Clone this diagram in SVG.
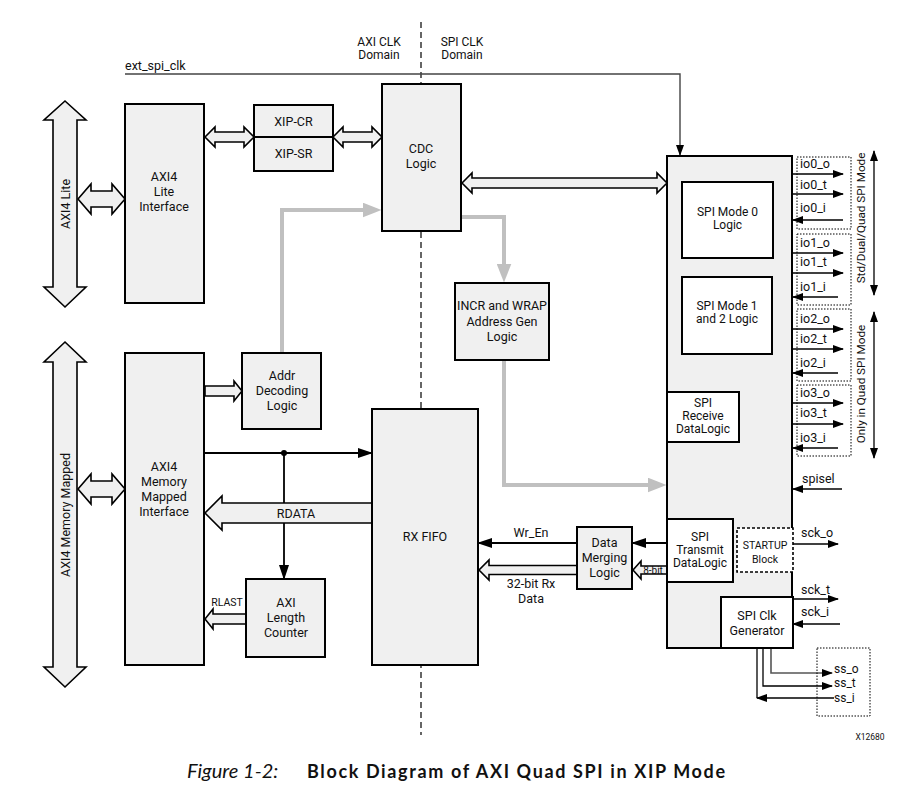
<svg xmlns="http://www.w3.org/2000/svg" width="914" height="792" viewBox="0 0 914 792">
<style>
text{font-family:Roboto,"Liberation Sans",sans-serif;font-size:12.5px;fill:#111;text-anchor:middle}
.l{text-anchor:start}
.sm{font-size:10.5px}
.t12{font-size:12px}
.box{fill:#f0f0f0;stroke:#000;stroke-width:2}
.wbox{fill:#fff;stroke:#000;stroke-width:2}
.hol{fill:#f0f0f0;stroke:#000;stroke-width:1.6;stroke-linejoin:miter}
.ln{fill:none;stroke:#000;stroke-width:1.8}
.thin{fill:none;stroke:#000;stroke-width:1.3}
.gr{fill:none;stroke:#c0c0c0;stroke-width:4}
.dot{fill:none;stroke:#000;stroke-width:1;stroke-dasharray:1.5,1.5}
</style>
<defs>
<marker id="ab" markerUnits="userSpaceOnUse" markerWidth="15" markerHeight="10" refX="14" refY="5" orient="auto"><path d="M0,0 L15,5 L0,10 Z" fill="#000"/></marker>
<marker id="as" markerUnits="userSpaceOnUse" markerWidth="11" markerHeight="8" refX="10" refY="4" orient="auto-start-reverse"><path d="M0,0 L11,4 L0,8 Z" fill="#000"/></marker>
<marker id="ag" markerUnits="userSpaceOnUse" markerWidth="19" markerHeight="15" refX="0.5" refY="7.5" orient="auto"><path d="M0,0 L19,7.5 L0,15 Z" fill="#c0c0c0"/></marker>
</defs>

<!-- domain divider -->
<line x1="421" y1="22" x2="421" y2="735" stroke="#000" stroke-width="1.2" stroke-dasharray="6,4"/>
<text x="379" y="46" class="t12">AXI CLK</text>
<text x="379" y="59" class="t12">Domain</text>
<text x="462" y="46" class="t12">SPI CLK</text>
<text x="462" y="59" class="t12">Domain</text>

<g id="connectors">
  <!-- ext_spi_clk -->
  <polyline points="125,74 680,74 680,155" style="fill:none;stroke:#444;stroke-width:1.4" marker-end="url(#as)"/>
  <text class="l" x="125" y="70">ext_spi_clk</text>
  <!-- gray address paths -->
  <polyline class="gr" points="282,353 282,210 363,210" marker-end="url(#ag)"/>
  <polyline class="gr" points="461,217 504,217 504,264" marker-end="url(#ag)"/>
  <polyline class="gr" points="504,360 504,485 648,485" marker-end="url(#ag)"/>
  <!-- big bus arrows -->
  <path class="hol" d="M65,101 L86,120 L77,120 L77,287 L86,287 L65,307 L44,287 L53,287 L53,120 L44,120 Z"/>
  <path class="hol" d="M65,342 L86,362 L77,362 L77,667 L86,667 L65,687 L44,667 L53,667 L53,362 L44,362 Z"/>
  <!-- small double arrows to interfaces -->
  <path class="hol" d="M78,199 L91,184 L91,191 L112,191 L112,184 L125,199 L112,214 L112,207 L91,207 L91,214 Z"/>
  <path class="hol" d="M78,489 L91,474 L91,481 L112,481 L112,474 L125,489 L112,504 L112,497 L91,497 L91,504 Z"/>
  <!-- Lite if <-> XIP -->
  <path class="hol" d="M205,137 L215,127 L215,132 L244,132 L244,127 L254,137 L244,147 L244,142 L215,142 L215,147 Z"/>
  <!-- XIP <-> CDC -->
  <path class="hol" d="M333,137 L343,127 L343,132 L372,132 L372,127 L382,137 L372,147 L372,142 L343,142 L343,147 Z"/>
  <!-- CDC <-> SPI core -->
  <path class="hol" d="M462,183 L472,173 L472,178 L657,178 L657,173 L667,183 L657,193 L657,188 L472,188 L472,193 Z"/>
  <!-- AXI MM -> Addr decoding -->
  <path class="hol" d="M205,386 L234,386 L234,381 L242,391 L234,401 L234,396 L205,396 Z"/>
  <!-- write path -->
  <line class="ln" x1="205" y1="453" x2="372" y2="453" marker-end="url(#ab)"/>
  <circle cx="284" cy="453" r="3" fill="#000"/>
  <line class="ln" x1="284" y1="453" x2="284" y2="579" marker-end="url(#ab)"/>
  <!-- RDATA -->
  <path class="hol" d="M372,503 L222,503 L222,496 L205,513 L222,530 L222,523 L372,523 Z"/>
  <text x="296" y="517.5">RDATA</text>
  <!-- RLAST -->
  <path class="hol" d="M246,614 L213,614 L213,609 L205,619 L213,629 L213,624 L246,624 Z"/>
  <text class="sm" x="227" y="606">RLAST</text>
  <!-- Wr_En & 32-bit -->
  <line class="ln" x1="577" y1="543" x2="478" y2="543" marker-end="url(#ab)"/>
  <text x="531" y="537">Wr_En</text>
  <path class="hol" d="M577,565.5 L489,565.5 L489,560 L479,570 L489,580 L489,574.5 L577,574.5 Z"/>
  <text x="531" y="588">32-bit Rx</text>
  <text x="531" y="603">Data</text>
  <!-- transmit -> merging -->
  <line class="ln" x1="667" y1="543" x2="632" y2="543" marker-end="url(#ab)"/>
  <path class="hol" d="M667,566 L641,566 L641,561 L633,570 L641,579 L641,574 L667,574 Z"/>
  <text x="653" y="573.5" style="font-size:10px">8-bit</text>
  <!-- io signals -->
  <g>
    <line class="thin" x1="793" y1="174" x2="843" y2="174" marker-end="url(#as)"/>
    <line class="thin" x1="793" y1="194" x2="843" y2="194" marker-end="url(#as)"/>
    <line class="thin" x1="843" y1="220" x2="793" y2="220" marker-end="url(#as)"/>
    <line class="thin" x1="793" y1="253" x2="843" y2="253" marker-end="url(#as)"/>
    <line class="thin" x1="793" y1="273" x2="843" y2="273" marker-end="url(#as)"/>
    <line class="thin" x1="838" y1="297" x2="793" y2="297" marker-end="url(#as)"/>
    <line class="thin" x1="793" y1="329" x2="843" y2="329" marker-end="url(#as)"/>
    <line class="thin" x1="793" y1="349" x2="843" y2="349" marker-end="url(#as)"/>
    <line class="thin" x1="838" y1="373" x2="793" y2="373" marker-end="url(#as)"/>
    <line class="thin" x1="793" y1="403" x2="843" y2="403" marker-end="url(#as)"/>
    <line class="thin" x1="793" y1="424" x2="843" y2="424" marker-end="url(#as)"/>
    <line class="thin" x1="838" y1="448" x2="793" y2="448" marker-end="url(#as)"/>
    <rect class="dot" x="797" y="157" width="54" height="72"/>
    <rect class="dot" x="797" y="234" width="54" height="71"/>
    <rect class="dot" x="797" y="309" width="54" height="72"/>
    <rect class="dot" x="797" y="385" width="54" height="71"/>
    <text class="l" x="800" y="168">io0_o</text>
    <text class="l" x="800" y="189">io0_t</text>
    <text class="l" x="800" y="212">io0_i</text>
    <text class="l" x="800" y="247">io1_o</text>
    <text class="l" x="800" y="266">io1_t</text>
    <text class="l" x="800" y="291">io1_i</text>
    <text class="l" x="800" y="323">io2_o</text>
    <text class="l" x="800" y="343">io2_t</text>
    <text class="l" x="800" y="367">io2_i</text>
    <text class="l" x="800" y="397">io3_o</text>
    <text class="l" x="800" y="417">io3_t</text>
    <text class="l" x="800" y="442">io3_i</text>
    <line class="thin" x1="874" y1="151" x2="874" y2="295" marker-start="url(#as)" marker-end="url(#as)"/>
    <line class="thin" x1="874" y1="312" x2="874" y2="458" marker-start="url(#as)" marker-end="url(#as)"/>
    <text transform="translate(865,218) rotate(-90)" style="font-size:11.7px">Std/Dual/Quad SPI Mode</text>
    <text transform="translate(865,384) rotate(-90)" style="font-size:11.7px">Only in Quad SPI Mode</text>
  </g>
  <!-- spisel / sck -->
  <line class="thin" x1="842" y1="489" x2="793" y2="489" marker-end="url(#as)"/>
  <text class="l" x="802" y="483">spisel</text>
  <line class="thin" x1="793" y1="544" x2="838" y2="544" marker-end="url(#as)"/>
  <text class="l" x="801" y="537">sck_o</text>
  <line class="thin" x1="793" y1="599" x2="838" y2="599" marker-end="url(#as)"/>
  <text class="l" x="801" y="594">sck_t</text>
  <line class="thin" x1="840" y1="624" x2="793" y2="624" marker-end="url(#as)"/>
  <text class="l" x="801" y="616">sck_i</text>
  <line class="thin" x1="763" y1="597" x2="763" y2="573" marker-end="url(#as)"/>
  <!-- ss -->
  <polyline class="thin" points="771,648 771,673 832,673" style="stroke:#555;stroke-width:1.6" marker-end="url(#as)"/>
  <polyline class="thin" points="763,648 763,686 832,686" marker-end="url(#as)"/>
  <polyline class="thin" points="757,648 757,698"/>
  <line class="thin" x1="834" y1="698" x2="757" y2="698" marker-end="url(#as)"/>
  <rect class="dot" x="817" y="648" width="53" height="68"/>
  <text class="l t12" x="834" y="673">ss_o</text>
  <text class="l t12" x="834" y="687">ss_t</text>
  <text class="l t12" x="834" y="701.5">ss_i</text>
</g>

<g id="axi4-lite-bus"><text transform="translate(69.5,204) rotate(-90)">AXI4 Lite</text></g>
<g id="axi4-mm-bus"><text transform="translate(69.5,515) rotate(-90)">AXI4 Memory Mapped</text></g>

<g id="axi4-lite-if">
  <rect class="box" x="125" y="104" width="79" height="199"/>
  <text x="164" y="180.5">AXI4</text><text x="164" y="195.5">Lite</text><text x="164" y="210.5">Interface</text>
</g>
<g id="xip-regs">
  <rect class="box" x="254" y="105" width="79" height="66"/>
  <line x1="254" y1="137" x2="333" y2="137" stroke="#000" stroke-width="2"/>
  <text x="293.5" y="126">XIP-CR</text><text x="293.5" y="158">XIP-SR</text>
</g>
<g id="cdc">
  <rect class="box" x="382" y="84" width="79" height="147"/>
  <text x="421" y="153">CDC</text><text x="421" y="168">Logic</text>
</g>
<g id="incr-wrap">
  <rect class="box" x="455" y="283" width="94" height="77"/>
  <text x="502" y="310">INCR and WRAP</text><text x="502" y="326">Address Gen</text><text x="502" y="341">Logic</text>
</g>
<g id="axi4-mm-if">
  <rect class="box" x="125" y="353" width="79" height="312"/>
  <text x="164" y="471">AXI4</text><text x="164" y="486">Memory</text><text x="164" y="501">Mapped</text><text x="164" y="516">Interface</text>
</g>
<g id="addr-dec">
  <rect class="box" x="242" y="353" width="79" height="76"/>
  <text x="282" y="380">Addr</text><text x="282" y="395">Decoding</text><text x="282" y="410">Logic</text>
</g>
<g id="rx-fifo">
  <rect class="box" x="372" y="409" width="106" height="256"/>
  <text x="425" y="541">RX FIFO</text>
</g>
<g id="axi-len">
  <rect class="box" x="246" y="579" width="79" height="78"/>
  <text x="286" y="607">AXI</text><text x="286" y="622">Length</text><text x="286" y="637">Counter</text>
</g>
<g id="data-merge">
  <rect class="box" x="577" y="527" width="55" height="62"/>
  <text x="604.5" y="547">Data</text><text x="604.5" y="562">Merging</text><text x="604.5" y="577">Logic</text>
</g>
<g id="spi-core">
  <rect class="box" x="667" y="156" width="125" height="492"/>
  <g id="spi-mode0">
    <rect class="wbox" x="682" y="182" width="91" height="76"/>
    <text class="t12" x="727.5" y="216">SPI Mode 0</text><text class="t12" x="727.5" y="229">Logic</text>
  </g>
  <g id="spi-mode12">
    <rect class="wbox" x="682" y="277" width="90" height="77"/>
    <text class="t12" x="727" y="310">SPI Mode 1</text><text class="t12" x="727" y="323">and 2 Logic</text>
  </g>
  <g id="spi-rx">
    <rect class="wbox" x="667" y="392" width="72" height="50"/>
    <text class="t12" x="703" y="407">SPI</text><text class="t12" x="703" y="420">Receive</text><text class="t12" x="703" y="433">DataLogic</text>
  </g>
  <g id="spi-tx">
    <rect class="wbox" x="667" y="519" width="66" height="63"/>
    <text class="t12" x="700" y="541">SPI</text><text class="t12" x="700" y="554">Transmit</text><text class="t12" x="700" y="567">DataLogic</text>
  </g>
  <g id="startup">
    <rect x="737" y="528" width="56" height="44" fill="#fff" stroke="#000" stroke-width="1.6" stroke-dasharray="3,2"/>
    <text class="sm" x="765" y="549">STARTUP</text><text class="sm" x="765" y="563">Block</text>
  </g>
  <g id="spi-clk-gen">
    <rect class="wbox" x="721" y="597" width="72" height="51"/>
    <text x="757" y="619.5">SPI Clk</text><text x="757" y="634.5">Generator</text>
  </g>
</g>

<text x="870" y="740" style="font-size:8.5px">X12680</text>
<text x="187" y="778" class="l" style="font-family:Lato,'Open Sans',sans-serif;font-size:20px;font-style:italic">Figure 1-2:</text>
<text x="307" y="778" class="l" style="font-family:Lato,'Open Sans',sans-serif;font-size:18px;font-weight:bold" textLength="418">Block Diagram of AXI Quad SPI in XIP Mode</text>
</svg>
